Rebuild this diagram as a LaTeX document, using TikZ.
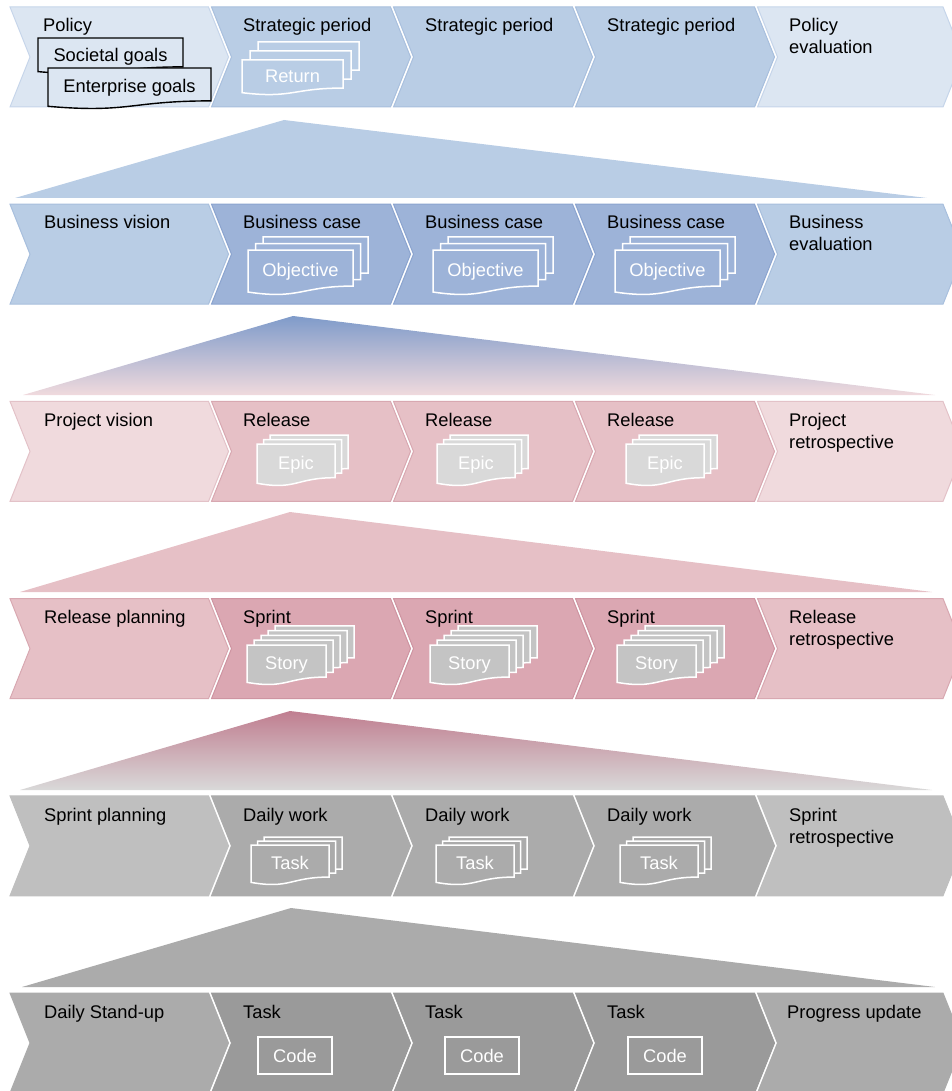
\documentclass[tikz,border=0pt]{standalone}
\usepackage{fontspec}
\setmainfont{Liberation Sans}
\usetikzlibrary{positioning}
\definecolor{polend}{HTML}{DCE6F2}
\definecolor{polendln}{HTML}{C6D5EA}
\definecolor{polmid}{HTML}{B9CDE5}
\definecolor{polmidln}{HTML}{A8BFDD}
\definecolor{busmid}{HTML}{9DB3D8}
\definecolor{busmidln}{HTML}{8BA4CF}
\definecolor{projend}{HTML}{F0DADD}
\definecolor{projendln}{HTML}{E3C2C8}
\definecolor{projmid}{HTML}{E6C0C6}
\definecolor{projmidln}{HTML}{D8A8B1}
\definecolor{relmid}{HTML}{DBA7B2}
\definecolor{relmidln}{HTML}{CE94A1}
\definecolor{sprend}{HTML}{BFBFBF}
\definecolor{sprmid}{HTML}{ABABAB}
\definecolor{dayend}{HTML}{ABABAB}
\definecolor{daymid}{HTML}{9A9A9A}
\definecolor{busgrad}{HTML}{7F9BCA}
\definecolor{relgrad}{HTML}{C07E90}
\definecolor{epicfill}{HTML}{D9D9D9}
\definecolor{storyfill}{HTML}{C4C4C4}

% one chevron: left x, right x, top y, fill, line
\newcommand{\chev}[5]{\draw[fill=#4,draw=#5,line width=1pt] (#1,#3) -- (#2,#3) -- (#2+20,#3+50) -- (#2,#3+100) -- (#1,#3+100) -- (#1+20,#3+50) -- cycle;}
% sheet with wavy bottom: x, y, width, height, style
\newcommand{\docsheet}[5]{\draw[#5] (#1,#2) -- (#1+#3,#2) -- (#1+#3,#2+0.802*#4) .. controls (#1+0.5*#3,#2+0.802*#4) and (#1+0.5*#3,#2+1.1075*#4) .. (#1,#2+0.934*#4) -- cycle;}
% pile of sheets: x, y, width, height, last index, dx, dy, style
\newcommand{\docstack}[8]{\foreach \k in {#5,...,0} {\docsheet{#1+\k*#6}{#2-\k*#7}{#3}{#4}{#8}}}

\begin{document}
\begin{tikzpicture}[x=1pt,y=-1pt,
    lbl/.style={anchor=base west,inner sep=0pt,align=left,font=\fontsize{18.3}{22}\selectfont},
    doctxt/.style={anchor=base,inner sep=0pt,text=white,font=\fontsize{18.3}{22}\selectfont},
    goalsheet/.style={fill=polend,draw=black,line width=1.4pt},
    codebox/.style={fill=daymid,draw=white,line width=1.5pt}]
  \useasboundingbox (0,0) rectangle (951,1091);

  % chevron rows
  \foreach \r/\ce/\le/\cm/\lm in {0/polend/polendln/polmid/polmidln, 1/polmid/polmidln/busmid/busmidln,
      2/projend/projendln/projmid/projmidln, 3/projmid/projmidln/relmid/relmidln,
      4/sprend/sprend/sprmid/sprmid, 5/dayend/dayend/daymid/daymid} {
    \pgfmathsetmacro\t{7+197.2*\r}
    \chev{10}{208.5}{\t}{\ce}{\le}
    \foreach \a/\b in {211.5/390.5, 393.5/572.5, 575.5/754.5} {\chev{\a}{\b}{\t}{\cm}{\lm}}
    \chev{757.5}{943}{\t}{\ce}{\le}
  }

  % zoom-in wedges
  \fill[polmid] (15,198) -- (284,120) -- (927,198) -- cycle;
  \shade[top color=busgrad,bottom color=projend] (23,395) -- (293,316) -- (935,395) -- cycle;
  \fill[projmid] (20,592) -- (290,512) -- (932,592) -- cycle;
  \shade[top color=relgrad,bottom color=epicfill] (20,790) -- (290,711) -- (932,790) -- cycle;
  \fill[dayend] (22,987) -- (291,908) -- (935,987) -- cycle;

  % first column
  \node[lbl] (policy) at (43,32) {Policy};
  \node[lbl] (busvis) at (44,229) {Business vision};
  \node[lbl] (projvis) at (44,426) {Project vision};
  \node[lbl] (relplan) at (44,623) {Release planning};
  \node[lbl] (sprplan) at (44,821) {Sprint planning};
  \node[lbl] (standup) at (44,1018) {Daily Stand-up};

  % middle columns
  \foreach \y/\txt/\nm in {32/Strategic period/sp, 229/Business case/bc, 426/Release/rel,
      623/Sprint/spr, 821/Daily work/dw, 1018/Task/tk}
    \foreach \x [count=\i] in {243,425,607} \node[lbl] (\nm\i) at (\x,\y) {\txt};

  % last column (base = second line)
  \node[lbl] (poleval) at (789,54) {Policy\\evaluation};
  \node[lbl] (buseval) at (789,251) {Business\\evaluation};
  \node[lbl] (projretro) at (789,448) {Project\\retrospective};
  \node[lbl] (relretro) at (789,645) {Release\\retrospective};
  \node[lbl] (sprretro) at (789,843) {Sprint\\retrospective};
  \node[lbl] (progress) at (787,1018) {Progress update};

  % goals
  \docsheet{38}{38}{145}{36}{goalsheet}
  \node[doctxt,text=black] (societal) at (110.5,62) {Societal goals};
  \docsheet{48}{68}{163}{41}{goalsheet}
  \node[doctxt,text=black] (enterprise) at (129.5,93) {Enterprise goals};

  % sheet piles
  \docstack{242}{60}{101}{35}{2}{8}{9}{fill=polmid,draw=white,line width=1.5pt}
  \node[doctxt] (return) at (292.5,83) {Return};
  \foreach \x [count=\i] in {248,433,615} {
    \docstack{\x}{250}{105}{45}{2}{7.5}{6.5}{fill=busmid,draw=white,line width=1.5pt}
    \node[doctxt] (obj\i) at (\x+52.5,276) {Objective};
  }
  \foreach \x [count=\i] in {257,437,626} {
    \docstack{\x}{444}{78}{42}{2}{6.5}{4.5}{fill=epicfill,draw=white,line width=1.5pt}
    \node[doctxt] (epic\i) at (\x+39,469) {Epic};
  }
  \foreach \x [count=\i] in {247,430,617} {
    \docstack{\x}{645}{79}{40}{4}{7}{4.8}{fill=storyfill,draw=white,line width=1.5pt}
    \node[doctxt] (story\i) at (\x+39.5,669) {Story};
  }
  \foreach \x [count=\i] in {251,436,620} {
    \docstack{\x}{845}{78}{40}{2}{6.5}{4}{fill=sprmid,draw=white,line width=1.5pt}
    \node[doctxt] (task\i) at (\x+39,869) {Task};
  }
  \foreach \x [count=\i] in {258,445,628} {
    \draw[codebox] (\x,1037) rectangle ++(74,37);
    \node[doctxt] (code\i) at (\x+37,1062) {Code};
  }
\end{tikzpicture}
\end{document}
